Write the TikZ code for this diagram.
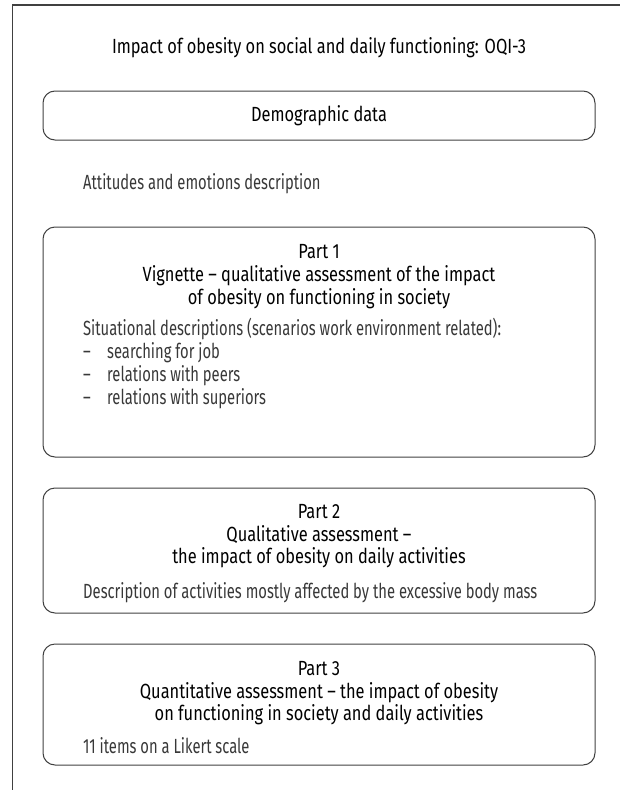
\documentclass[tikz,border=0pt]{standalone}
\usepackage{fontspec}
\setmainfont[FakeStretch=0.72]{Fira Sans}
\newfontfamily\headfont[FakeStretch=0.80]{Fira Sans}
\begin{document}
\begin{tikzpicture}[x=1pt,y=-1pt,font=\fontsize{20.5}{23}\selectfont]
\tikzset{
  frameline/.style={draw=black!75,line width=1.2pt},
  box/.style={draw=black!75,line width=1pt,rounded corners=12pt,minimum width=552pt,inner sep=0pt},
  head/.style={text=black,inner sep=0pt,anchor=base,font=\fontsize{20.5}{23}\headfont},
  body/.style={text=black!78,inner sep=0pt,anchor=base west},
}
\useasboundingbox (0,0) rectangle (620,790);
\draw[frameline] (620,5) -- (12.5,5) -- (12.5,790);
\node[head] (title) at (319,53) {Impact of obesity on social and daily functioning: OQI-3};
% demographic
\node[box,minimum height=49pt] (demo) at (319,115.5) {};
\node[head] (demotext) at (319,121) {Demographic data};
\node[body] (att) at (83,189) {Attitudes and emotions description};
% part 1
\node[box,minimum height=230pt] (p1) at (319,342) {};
\node[head] (p1a) at (319,258) {Part 1};
\node[head] (p1b) at (319,281) {Vignette – qualitative assessment of the impact};
\node[head] (p1c) at (319,304) {of obesity on functioning in society};
\node[body] (p1d) at (83,335) {Situational descriptions (scenarios work environment related):};
\node[body] (d1) at (83,358) {–};
\node[body] (i1) at (107,358) {searching for job};
\node[body] (d2) at (83,381) {–};
\node[body] (i2) at (107,381) {relations with peers};
\node[body] (d3) at (83,404) {–};
\node[body] (i3) at (107,404) {relations with superiors};
% part 2
\node[box,minimum height=125pt] (p2) at (319,550.5) {};
\node[head] (p2a) at (319,518) {Part 2};
\node[head] (p2b) at (319,541) {Qualitative assessment –};
\node[head] (p2c) at (319,563) {the impact of obesity on daily activities};
\node[body] (p2d) at (83,598) {Description of activities mostly affected by the excessive body mass};
% part 3
\node[box,minimum height=121pt] (p3) at (319,704.5) {};
\node[head] (p3a) at (319,675) {Part 3};
\node[head] (p3b) at (319,698) {Quantitative assessment – the impact of obesity};
\node[head] (p3c) at (319,720) {on functioning in society and daily activities};
\node[body] (p3d) at (83,753) {11 items on a Likert scale};
\end{tikzpicture}
\end{document}
